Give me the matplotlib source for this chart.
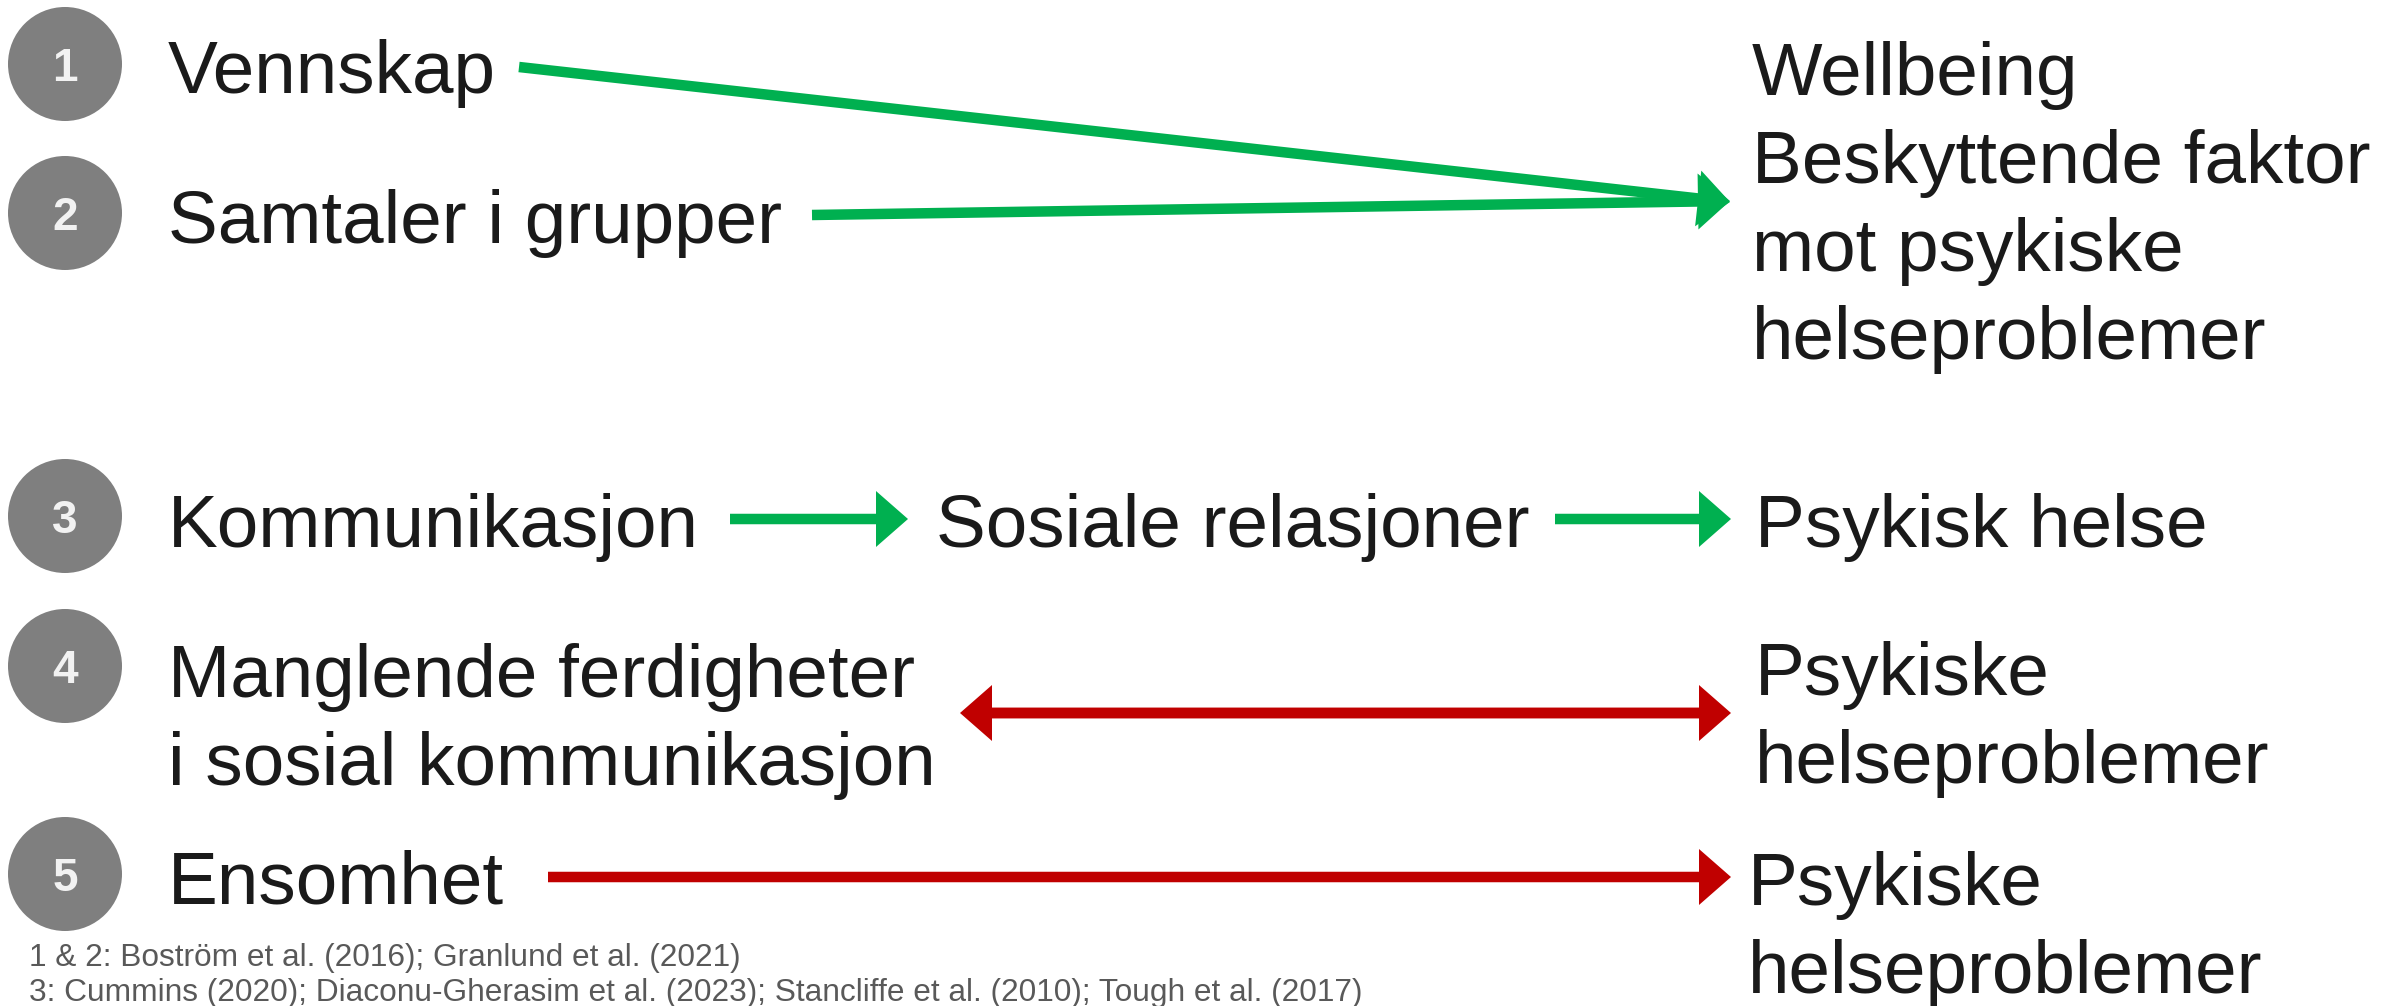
import matplotlib.pyplot as plt

plt.rcParams['font.family'] = ['Liberation Sans', 'DejaVu Sans']

# numbered items (circle label, text on the left)
numbers = ['1', '2', '3', '4', '5']
left_texts = ['Vennskap', 'Samtaler i grupper', 'Kommunikasjon',
              'Manglende ferdigheter\ni sosial kommunikasjon', 'Ensomhet']
mid_texts = ['Sosiale relasjoner']
right_texts = ['Wellbeing\nBeskyttende faktor\nmot psykiske\nhelseproblemer',
               'Psykisk helse', 'Psykiske\nhelseproblemer', 'Psykiske\nhelseproblemer']
footnotes = ['1 & 2: Boström et al. (2016); Granlund et al. (2021)',
             '3: Cummins (2020); Diaconu-Gherasim et al. (2023); Stancliffe et al. (2010); Tough et al. (2017)']

# layout in pixels (y goes down)
W, H = 2399, 1006
circle_x = 65
circle_y = [64, 213, 516, 666, 874]
left_base = [93, 243, 547, 697, 904]
left_x = 168
right_pos = [(1752, 95), (1755, 547), (1755, 695), (1748, 905)]
mid_pos = (936, 547)
line_gap = 88

# arrows: (x0, y0, x1, y1, colour, both ends)
green = '#00b050'
red = '#c00000'
arrows = [
    (519, 67, 1730, 202, green, False),
    (812, 215, 1730, 201, green, False),
    (730, 519, 908, 519, green, False),
    (1555, 519, 1731, 519, green, False),
    (960, 713, 1731, 713, red, True),
    (548, 877, 1731, 877, red, False),
]

fig = plt.figure(figsize=(W / 100, H / 100), dpi=100)
ax = fig.add_axes([0, 0, 1, 1])
ax.set_xlim(0, W)
ax.set_ylim(H, 0)
ax.axis('off')

fs = 53.8
txt_col = '#1a1a1a'

for num, cy in zip(numbers, circle_y):
    ax.add_patch(plt.Circle((circle_x, cy), 57, color='#7f7f7f', lw=0))
    ax.text(circle_x, cy, num, fontsize=33, fontweight='bold', color='#f2f2f2',
            ha='center', va='center_baseline')

for t, b in zip(left_texts, left_base):
    for i, line in enumerate(t.split('\n')):
        ax.text(left_x, b + i * line_gap, line, fontsize=fs, color=txt_col,
                ha='left', va='baseline')

for t in mid_texts:
    ax.text(mid_pos[0], mid_pos[1], t, fontsize=fs, color=txt_col, ha='left', va='baseline')

for t, (x, b) in zip(right_texts, right_pos):
    for i, line in enumerate(t.split('\n')):
        ax.text(x, b + i * line_gap, line, fontsize=fs, color=txt_col,
                ha='left', va='baseline')

hl = 32
for x0, y0, x1, y1, col, both in arrows:
    kw = dict(width=10.5, head_width=56, head_length=hl, length_includes_head=True,
              color=col, lw=0)
    ax.arrow(x0 + (hl if both else 0), y0, x1 - x0 - (hl if both else 0), y1 - y0, **kw)
    if both:
        ax.arrow(x1 - hl, y1, x0 - x1 + hl, y0 - y1, **kw)

for i, f in enumerate(footnotes):
    ax.text(29, 966 + i * 35, f, fontsize=22.8, color='#595959', ha='left', va='baseline')

fig.savefig('out.png', dpi=100)
